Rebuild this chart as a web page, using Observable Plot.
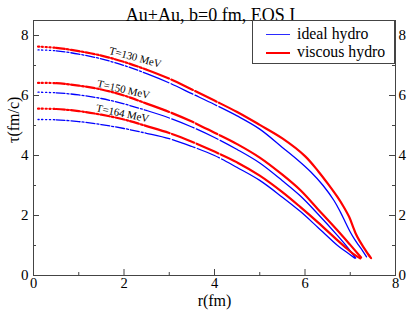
<!DOCTYPE html>
<html>
<head>
<meta charset="utf-8">
<script src="https://cdn.jsdelivr.net/npm/d3@7"></script>
<script src="https://cdn.jsdelivr.net/npm/@observablehq/plot@0.6"></script>
<style>
  body { margin: 0; background: #fff; }
  #wrap { position: relative; width: 407px; height: 311px; font-family: "Liberation Serif", "Times New Roman", serif; }
  #legend { position: absolute; left: 252px; top: 20px; width: 143px; height: 44px; border: 1px solid #444; box-sizing: border-box; background: #fff; }
  .sw { position: absolute; left: 13px; width: 24px; height: 0; }
  .lab { position: absolute; left: 44px; font-size: 15.8px; line-height: 18px; height: 18px; color: #000; white-space: nowrap; }
  svg text { font-family: "Liberation Serif", "Times New Roman", serif; }
</style>
</head>
<body>
<div id="wrap">
  <div id="chart"></div>
  <div id="legend">
    <div class="sw" style="top:13px;border-top:1.3px solid #2a2aff"></div>
    <div class="lab" style="top:4px">ideal hydro</div>
    <div class="sw" style="top:30.5px;border-top:2.2px solid #ff0000"></div>
    <div class="lab" style="top:22px">viscous hydro</div>
  </div>
</div>
<script>
// ---- data ----
const title = "Au+Au, b=0 fm, EOS I";
const xLabel = "r(fm)";
const yLabel = "τ(fm/c)";
const models = ["ideal hydro", "viscous hydro"];
const temps = ["T=130 MeV", "T=150 MeV", "T=164 MeV"];

const idealR130 = [0.1,0.5,1.0,1.5,2.0,2.5,3.0,3.5,4.0,4.5,5.0,5.5,5.8,6.13,6.4,6.64,6.78,6.9,7.0,7.09,7.18,7.27,7.36];
const idealTau130 = [7.52,7.49,7.38,7.22,7.0,6.73,6.42,6.06,5.7,5.32,4.88,4.27,3.9,3.45,3.0,2.5,2.12,1.75,1.45,1.22,1.02,0.83,0.62];
const viscousR130 = [0.1,0.5,1.0,1.5,2.0,2.5,3.0,3.5,4.0,4.5,5.0,5.5,6.0,6.3,6.5,6.72,6.85,6.98,7.06,7.12,7.2,7.3,7.4,7.46];
const viscousTau130 = [7.63,7.59,7.48,7.33,7.12,6.86,6.56,6.2,5.83,5.45,5.02,4.57,3.98,3.46,3.07,2.61,2.3,1.94,1.63,1.4,1.17,0.93,0.7,0.58];

const idealR150 = [0.1,0.5,1.0,1.5,2.0,2.5,3.0,3.5,4.0,4.5,5.0,5.5,5.9,6.28,6.72,6.94,7.12];
const idealTau150 = [6.11,6.09,6.02,5.9,5.72,5.5,5.25,4.95,4.6,4.2,3.75,3.16,2.65,2.06,1.33,0.94,0.58];
const viscousR150 = [0.1,0.5,1.0,1.5,2.0,2.5,3.0,3.5,4.0,4.5,5.0,5.5,5.9,6.28,6.72,7.0,7.24];
const viscousTau150 = [6.42,6.41,6.33,6.2,6.0,5.73,5.45,5.13,4.76,4.38,3.93,3.36,2.84,2.22,1.5,1.02,0.6];

const idealR164 = [0.1,0.5,1.0,1.5,2.0,2.5,3.0,3.5,4.0,4.5,5.0,5.5,5.9,6.28,6.72,6.9,7.1];
const idealTau164 = [5.2,5.19,5.13,5.03,4.9,4.74,4.56,4.3,4.0,3.6,3.17,2.61,2.13,1.61,1.0,0.8,0.58];
const viscousR164 = [0.1,0.5,1.0,1.5,2.0,2.5,3.0,3.5,4.0,4.5,5.0,5.5,5.9,6.28,6.72,6.9,7.05,7.22];
const viscousTau164 = [5.56,5.55,5.48,5.36,5.2,4.98,4.75,4.46,4.13,3.77,3.33,2.78,2.28,1.78,1.17,0.93,0.74,0.57];

const majorTicks = [0, 2, 4, 6, 8];
const minorXTicks = [1, 3, 5, 7];
const minorYTicks = [1, 3, 5, 7];

// isotherm label annotations
const labelR = [2.25, 1.99, 1.97];
const labelTau = [7.27, 6.2, 5.4];
const labelAngle = [15, 13, 12];

// ---- build tables ----
function rows(model, T, rs, taus) { return rs.map((r, i) => ({model, T, r, tau: taus[i]})); }
const idealRows = [
  ...rows(models[0], temps[0], idealR130, idealTau130),
  ...rows(models[0], temps[1], idealR150, idealTau150),
  ...rows(models[0], temps[2], idealR164, idealTau164)
];
const viscousRows = [
  ...rows(models[1], temps[0], viscousR130, viscousTau130),
  ...rows(models[1], temps[1], viscousR150, viscousTau150),
  ...rows(models[1], temps[2], viscousR164, viscousTau164)
];
const labels = temps.map((t, i) => ({t, r: labelR[i], tau: labelTau[i], a: labelAngle[i]}));

const W = 407, H = 311, mL = 33, mR = 12, mT = 20, mB = 36;
const fw = W - mL - mR, fh = H - mT - mB;
const axisColor = "#444";
const serif = "'Liberation Serif', 'Times New Roman', serif";

const chart = Plot.plot({
  width: W, height: H,
  marginLeft: mL, marginRight: mR, marginTop: mT, marginBottom: mB,
  style: {fontFamily: serif, fontSize: "15px", background: "#fff", color: "#000", overflow: "visible"},
  x: {domain: [0, 8], label: null},
  y: {domain: [0, 8.5], label: null},
  marks: [
    Plot.line(idealRows, {x: "r", y: "tau", z: "T", stroke: "#0000ff", strokeWidth: 1.3, curve: "catmull-rom"}),
    Plot.line(viscousRows, {x: "r", y: "tau", z: "T", stroke: "#ff0000", strokeWidth: 2.2, curve: "catmull-rom"}),
    Plot.text(labels, {x: "r", y: "tau", text: "t", rotate: "a", fontSize: 10.8, fill: "#000", fontFamily: serif}),
    Plot.frame({stroke: axisColor}),
    Plot.tickX(majorTicks, {x: d => d, insetTop: fh - 6, stroke: axisColor}),
    Plot.tickX(minorXTicks, {x: d => d, insetTop: fh - 3, stroke: axisColor}),
    Plot.tickY(majorTicks, {y: d => d, insetRight: fw - 6, stroke: axisColor}),
    Plot.tickY(minorYTicks, {y: d => d, insetRight: fw - 3, stroke: axisColor}),
    Plot.tickY(majorTicks, {y: d => d, insetLeft: fw - 6, stroke: axisColor}),
    Plot.tickY(minorYTicks, {y: d => d, insetLeft: fw - 3, stroke: axisColor}),
    Plot.axisX({ticks: majorTicks, tickSize: 0, tickPadding: 2, fontSize: 14.5, fontFamily: serif, label: null}),
    Plot.axisY({anchor: "left", ticks: majorTicks, tickSize: 0, tickPadding: 5, fontSize: 15, fontFamily: serif, label: null}),
    Plot.axisY({anchor: "right", ticks: majorTicks, tickSize: 0, tickPadding: 3, fontSize: 15, fontFamily: serif, label: null}),
    Plot.text([title], {text: d => d, frameAnchor: "top", dy: -12, dx: -4, fontSize: 18, fontFamily: serif}),
    Plot.text([xLabel], {text: d => d, frameAnchor: "bottom", dy: 30, fontSize: 16, fontFamily: serif}),
    Plot.text([yLabel], {text: d => d, frameAnchor: "left", dx: -20, dy: -5, rotate: -90, fontSize: 16, fontFamily: serif})
  ]
});
document.getElementById("chart").appendChild(chart);

// ---- line styles along each isotherm: dotted, dash-dot, long dash, then solid ----
const xs = chart.scale("x");
const styleBreaks = [0.5, 2.5, 4.5];
const stylePatterns = [[1.2, 2.6], [9, 2, 2, 2], [24, 2.5]];
chart.querySelectorAll('g[aria-label="line"] path').forEach(p => {
  const L = p.getTotalLength();
  const lenAtX = px => {
    let lo = 0, hi = L;
    for (let i = 0; i < 40; i++) { const m = (lo + hi) / 2; if (p.getPointAtLength(m).x < px) lo = m; else hi = m; }
    return lo;
  };
  const cuts = styleBreaks.map(v => lenAtX(xs.apply(v)));
  const arr = [];
  let pos = 0;
  stylePatterns.forEach((pat, k) => {
    const end = cuts[k];
    let i = 0;
    while (pos < end - 1e-6) {
      let seg = pat[i % pat.length];
      if (pos + seg > end) seg = end - pos;
      arr.push(seg); pos += seg; i++;
    }
    if (arr.length % 2 === 1) arr.push(0);
  });
  arr.push(L - pos + 10, 0);
  p.setAttribute("stroke-dasharray", arr.map(v => v.toFixed(2)).join(","));
});
</script>
</body>
</html>
